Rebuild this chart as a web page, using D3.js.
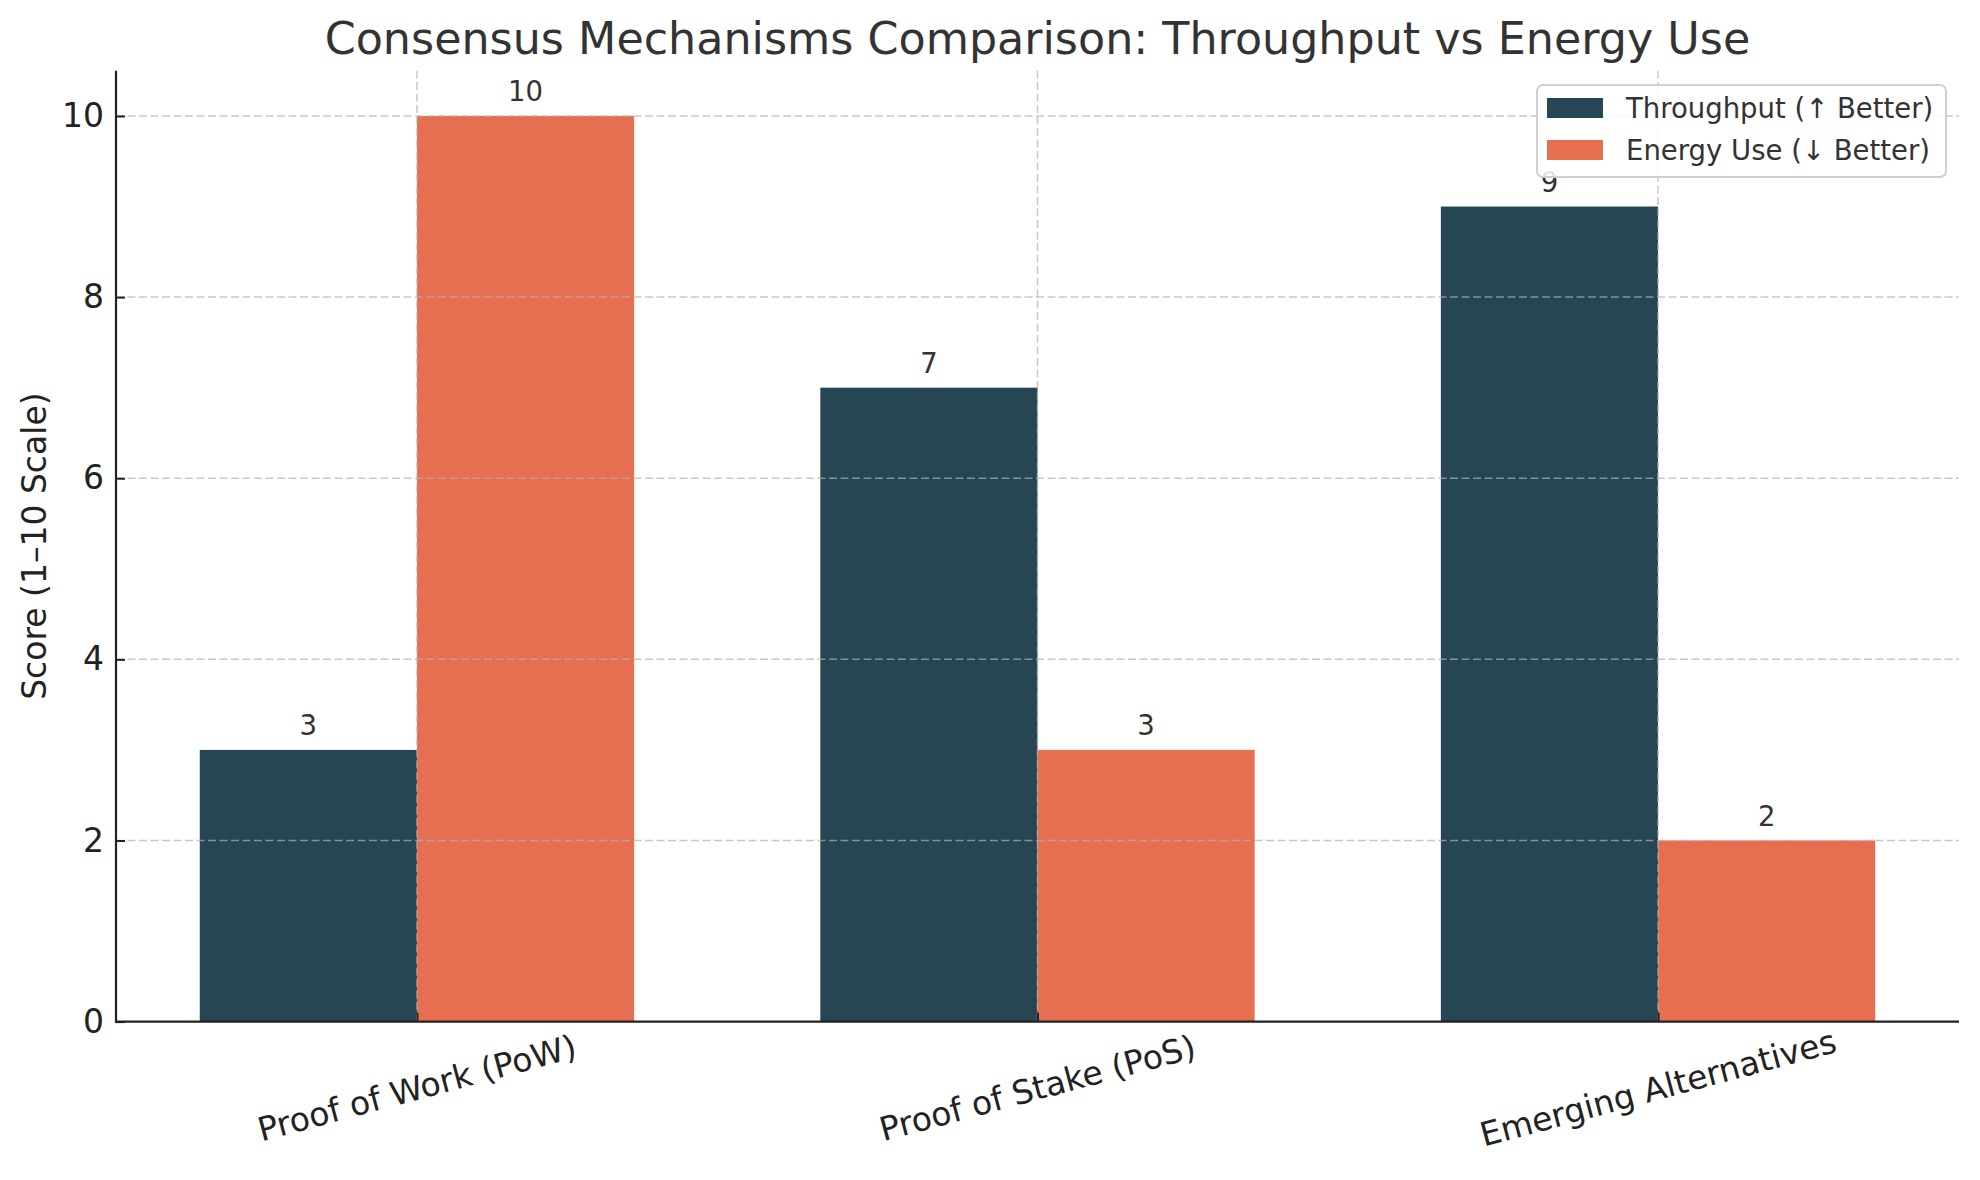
<!DOCTYPE html>
<html>
<head>
<meta charset="utf-8">
<script src="https://cdn.jsdelivr.net/npm/d3@7"></script>
<style>
  body { margin: 0; background: #fff; }
  text { font-family: "DejaVu Sans", sans-serif; }
</style>
</head>
<body>
<div id="chart"></div>
<script>
const categories = ["Proof of Work (PoW)", "Proof of Stake (PoS)", "Emerging Alternatives"];
const throughput = [3, 7, 9];
const energyUse = [10, 3, 2];
const seriesNames = ["Throughput (↑ Better)", "Energy Use (↓ Better)"];
const seriesColors = ["#264653", "#E76F51"];
const yTicks = [0, 2, 4, 6, 8, 10];

const width = 1980, height = 1180;
const barW = 0.35;

const svg = d3.select("#chart")
  .append("svg")
  .attr("width", width)
  .attr("height", height);

const x = d3.scaleLinear().domain([-0.485, 2.485]).range([116, 1959]);
const y = d3.scaleLinear().domain([0, 10.5]).range([1021.6, 70.7]);

const series = [throughput, energyUse];

// bars
series.forEach((vals, s) => {
  const off = s === 0 ? -barW / 2 : barW / 2;
  svg.append("g")
    .selectAll("rect")
    .data(vals)
    .join("rect")
    .attr("x", (d, i) => x(i + off - barW / 2))
    .attr("width", x(barW) - x(0))
    .attr("y", d => y(d))
    .attr("height", d => y(0) - y(d))
    .attr("fill", seriesColors[s]);
});

// grid on top of bars (matplotlib default)
const grid = svg.append("g")
  .attr("stroke", "#b0b0b0")
  .attr("stroke-opacity", 0.7)
  .attr("stroke-width", 1.5)
  .attr("stroke-dasharray", "8,3.5");
grid.selectAll("line.h")
  .data(yTicks.filter(d => d > 0))
  .join("line")
  .attr("x1", x.range()[0]).attr("x2", x.range()[1])
  .attr("y1", d => y(d)).attr("y2", d => y(d));
grid.selectAll("line.v")
  .data(categories)
  .join("line")
  .attr("x1", (d, i) => x(i)).attr("x2", (d, i) => x(i))
  .attr("y1", y.range()[0]).attr("y2", y.range()[1]);

// y axis, ticks point inward
const yAxis = svg.append("g")
  .attr("transform", `translate(${x.range()[0]},0)`)
  .call(d3.axisLeft(y).tickValues(yTicks).tickSize(-9).tickPadding(12).tickFormat(d3.format("d")));
yAxis.select(".domain").remove();
yAxis.selectAll(".tick line").attr("stroke", "#222").attr("stroke-width", 2);
yAxis.selectAll(".tick text")
  .attr("font-size", 33)
  .attr("fill", "#222")
  .style("font-family", "DejaVu Sans");

// x ticks, inward
const xAxis = svg.append("g")
  .attr("transform", `translate(0,${y.range()[0]})`)
  .call(d3.axisBottom(x).tickValues(d3.range(categories.length)).tickSize(-9).tickFormat(""));
xAxis.select(".domain").remove();
xAxis.selectAll(".tick line").attr("stroke", "#222").attr("stroke-width", 2);

// spines
svg.append("line")
  .attr("x1", x.range()[0]).attr("x2", x.range()[0])
  .attr("y1", y.range()[1]).attr("y2", y.range()[0] + 1)
  .attr("stroke", "#222").attr("stroke-width", 2.2);
svg.append("line")
  .attr("x1", x.range()[0] - 1).attr("x2", x.range()[1])
  .attr("y1", y.range()[0]).attr("y2", y.range()[0])
  .attr("stroke", "#222").attr("stroke-width", 2.2);

// x tick labels, rotated 15 degrees
svg.append("g")
  .selectAll("text")
  .data(categories)
  .join("text")
  .attr("transform", (d, i) => `translate(${x(i)},1088) rotate(-15)`)
  .attr("text-anchor", "middle")
  .attr("dominant-baseline", "central")
  .attr("font-size", 33)
  .attr("fill", "#222")
  .text(d => d);

// bar value labels
series.forEach((vals, s) => {
  const off = s === 0 ? -barW / 2 : barW / 2;
  svg.append("g")
    .selectAll("text")
    .data(vals)
    .join("text")
    .attr("x", (d, i) => x(i + off))
    .attr("y", d => y(d) - 14.5)
    .attr("text-anchor", "middle")
    .attr("font-size", 27.5)
    .attr("fill", "#333")
    .text(d => d);
});

// y label
svg.append("text")
  .attr("transform", `translate(34,${(y.range()[0] + y.range()[1]) / 2}) rotate(-90)`)
  .attr("text-anchor", "middle")
  .attr("dominant-baseline", "central")
  .attr("font-size", 33)
  .attr("fill", "#222")
  .text("Score (1–10 Scale)");

// title
svg.append("text")
  .attr("x", (x.range()[0] + x.range()[1]) / 2)
  .attr("y", 54)
  .attr("text-anchor", "middle")
  .attr("font-size", 44.4)
  .attr("fill", "#333")
  .text("Consensus Mechanisms Comparison: Throughput vs Energy Use");

// legend
const legend = svg.append("g").attr("transform", "translate(1537,85)");
legend.append("rect")
  .attr("width", 409).attr("height", 92)
  .attr("rx", 6)
  .attr("fill", "white").attr("fill-opacity", 0.85)
  .attr("stroke", "#d0d0d0").attr("stroke-width", 2);
seriesNames.forEach((name, i) => {
  legend.append("rect")
    .attr("x", 10).attr("y", 13 + i * 42)
    .attr("width", 56).attr("height", 20)
    .attr("fill", seriesColors[i]);
  legend.append("text")
    .attr("x", 89).attr("y", 23 + i * 42)
    .attr("dominant-baseline", "central")
    .attr("font-size", 27.5)
    .attr("fill", "#333")
    .text(name);
});
</script>
</body>
</html>
